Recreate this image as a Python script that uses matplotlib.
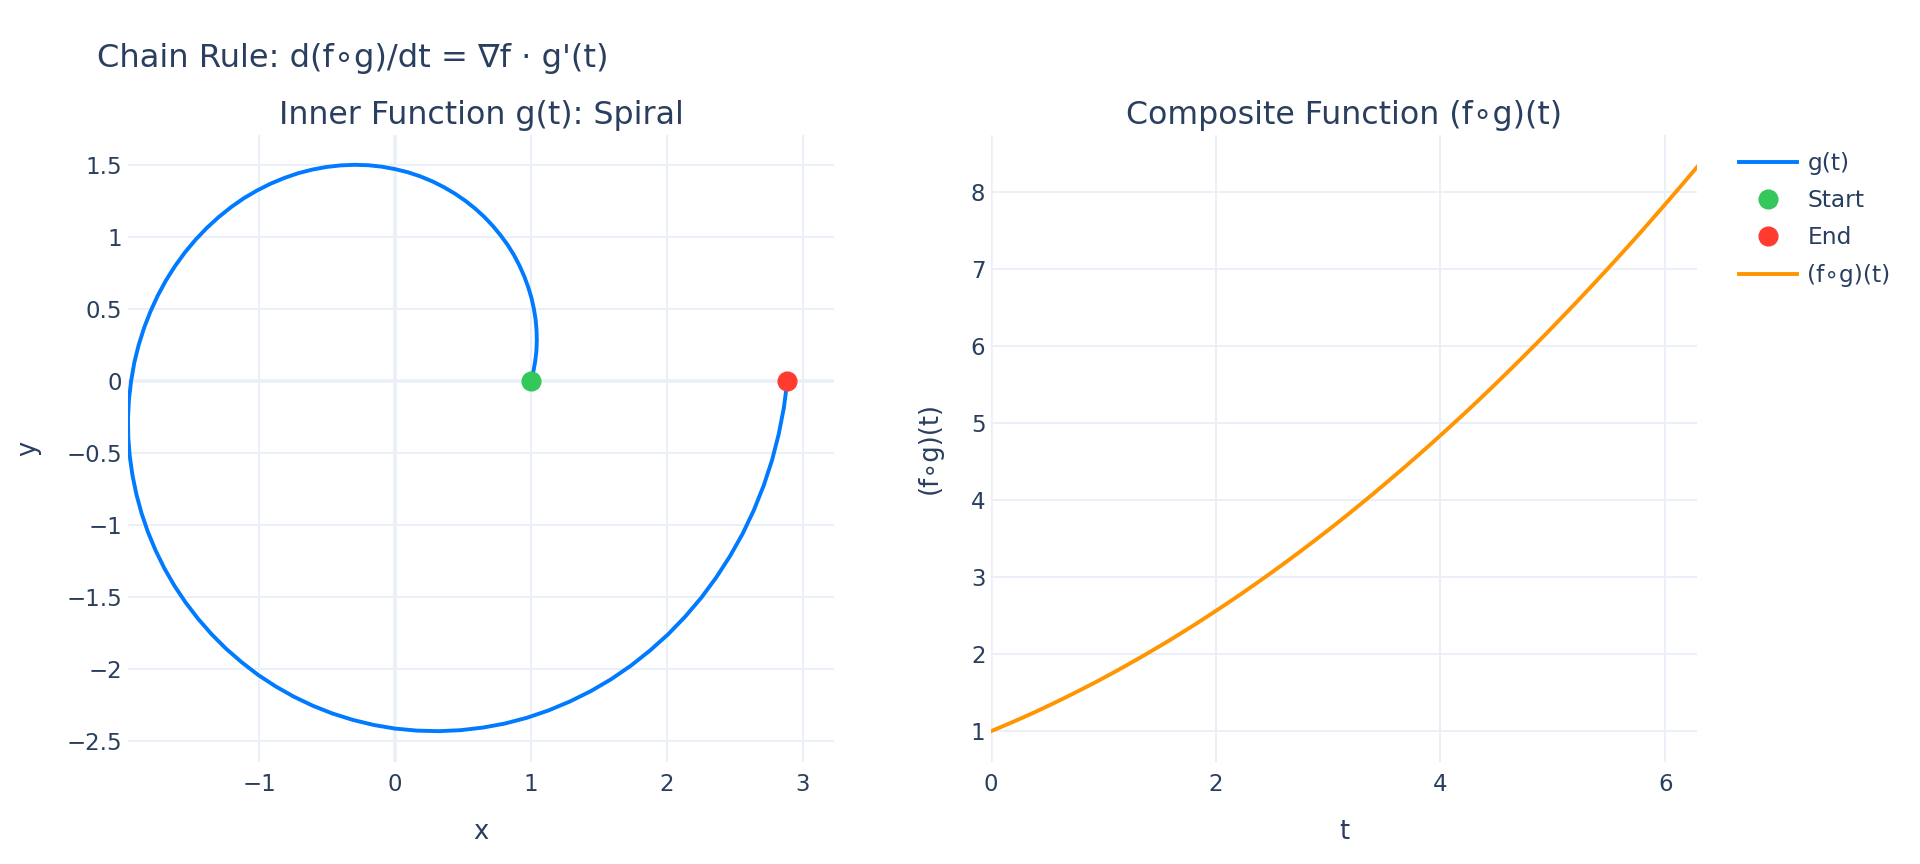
import matplotlib
matplotlib.use('Agg')
import matplotlib.pyplot as plt
from matplotlib.lines import Line2D

plt.rcParams['font.family'] = ['DejaVu Sans']

# Spiral g(t)
spiral_x = [1.000, 1.017, 1.030, 1.039, 1.042, 1.040, 1.033, 1.020, 1.002, 0.978,
            0.949, 0.914, 0.874, 0.828, 0.776, 0.719, 0.657, 0.590, 0.518, 0.441,
            0.360, 0.276, 0.187, 0.095, 0.000, -0.098, -0.197, -0.299, -0.401, -0.505,
            -0.608, -0.712, -0.814, -0.916, -1.015, -1.113, -1.207, -1.298, -1.385, -1.468,
            -1.546, -1.619, -1.686, -1.746, -1.800, -1.847, -1.887, -1.919, -1.942, -1.958,
            -1.965, -1.963, -1.952, -1.932, -1.903, -1.865, -1.818, -1.762, -1.697, -1.623,
            -1.540, -1.449, -1.350, -1.243, -1.128, -1.007, -0.879, -0.744, -0.604, -0.459,
            -0.310, -0.157, 0.000, 0.159, 0.320, 0.482, 0.645, 0.807, 0.969, 1.128,
            1.285, 1.439, 1.589, 1.734, 1.873, 2.007, 2.133, 2.252, 2.362, 2.464,
            2.557, 2.639, 2.711, 2.772, 2.821, 2.859, 2.885]
spiral_y = [0.000, 0.067, 0.136, 0.207, 0.279, 0.353, 0.428, 0.503, 0.579, 0.654,
            0.728, 0.802, 0.874, 0.944, 1.011, 1.076, 1.138, 1.196, 1.250, 1.300,
            1.345, 1.385, 1.420, 1.449, 1.471, 1.488, 1.498, 1.501, 1.497, 1.486,
            1.468, 1.443, 1.410, 1.370, 1.323, 1.269, 1.207, 1.138, 1.063, 0.981,
            0.893, 0.798, 0.698, 0.593, 0.482, 0.368, 0.248, 0.126, 0.000, -0.128,
            -0.259, -0.391, -0.523, -0.656, -0.788, -0.920, -1.050, -1.177, -1.302, -1.423,
            -1.540, -1.652, -1.759, -1.860, -1.954, -2.042, -2.121, -2.193, -2.256, -2.310,
            -2.354, -2.389, -2.414, -2.428, -2.432, -2.425, -2.407, -2.379, -2.339, -2.288,
            -2.226, -2.154, -2.071, -1.977, -1.873, -1.760, -1.637, -1.505, -1.364, -1.215,
            -1.059, -0.896, -0.726, -0.551, -0.371, -0.187, 0.000]

# Composite (f∘g)(t), right panel
t_vals = [0.000, 0.131, 0.262, 0.393, 0.524, 0.654, 0.785, 0.916, 1.047, 1.178,
          1.309, 1.440, 1.571, 1.702, 1.833, 1.963, 2.094, 2.225, 2.356, 2.487,
          2.618, 2.749, 2.880, 3.011, 3.142, 3.272, 3.403, 3.534, 3.665, 3.796,
          3.927, 4.058, 4.189, 4.320, 4.451, 4.581, 4.712, 4.843, 4.974, 5.105,
          5.236, 5.367, 5.498, 5.629, 5.760, 5.890, 6.021, 6.152, 6.283]
fg_vals = [1.000, 1.080, 1.163, 1.249, 1.339, 1.431, 1.527, 1.625, 1.727, 1.832,
           1.940, 2.051, 2.164, 2.282, 2.402, 2.525, 2.651, 2.781, 2.914, 3.049,
           3.188, 3.330, 3.474, 3.622, 3.773, 3.927, 4.084, 4.245, 4.408, 4.575,
           4.744, 4.917, 5.092, 5.271, 5.453, 5.638, 5.826, 6.017, 6.211, 6.409,
           6.609, 6.813, 7.019, 7.229, 7.441, 7.657, 7.876, 8.098, 8.323]

start_pt = (1.0, 0.0)
end_pt = (2.885, 0.0)

left_xticks = [-1, 0, 1, 2, 3]
left_xlabels = ['−1', '0', '1', '2', '3']
left_yticks = [-2.5, -2, -1.5, -1, -0.5, 0, 0.5, 1, 1.5]
left_ylabels = ['−2.5', '−2', '−1.5', '−1', '−0.5', '0', '0.5', '1', '1.5']
right_xticks = [0, 2, 4, 6]
right_yticks = [1, 2, 3, 4, 5, 6, 7, 8]

BLUE = '#007AFF'
GREEN = '#34C759'
RED = '#FF3B30'
ORANGE = '#FF9500'
TXT = '#2a3f5f'
GRID = '#EBF0F8'

W, H = 1920, 864
fig = plt.figure(figsize=(19.2, 8.64), dpi=100)

def px_axes(x0, x1, y0, y1):
    return fig.add_axes([x0 / W, 1 - y1 / H, (x1 - x0) / W, (y1 - y0) / H])

def style(ax):
    for s in ax.spines.values():
        s.set_visible(False)
    ax.grid(True, color=GRID, lw=1.4)
    ax.set_axisbelow(True)
    ax.tick_params(length=0, labelsize=16.5, labelcolor=TXT)
    ax.tick_params(axis='x', pad=8)
    ax.tick_params(axis='y', pad=4)

ax1 = px_axes(128, 834, 135, 762)
ax2 = px_axes(991, 1697, 135, 762)

# left: spiral
style(ax1)
ax1.axhline(0, color=GRID, lw=2.6, zorder=0.5)
ax1.axvline(0, color=GRID, lw=2.6, zorder=0.5)
ax1.plot(spiral_x, spiral_y, color=BLUE, lw=2.8, label='g(t)', solid_joinstyle='round')
ax1.plot(*start_pt, 'o', color=GREEN, ms=13.5, label='Start', zorder=5)
ax1.plot(*end_pt, 'o', color=RED, ms=13.5, label='End', zorder=5)
ax1.set_xlim(-1.965, 3.228)
ax1.set_ylim(-2.646, 1.708)
ax1.set_xticks(left_xticks)
ax1.set_xticklabels(left_xlabels)
ax1.set_yticks(left_yticks)
ax1.set_yticklabels(left_ylabels)

# right: composite
style(ax2)
ax2.axvline(0, color=GRID, lw=2.6, zorder=0.5)
ax2.plot(t_vals, fg_vals, color=ORANGE, lw=2.8, label='(f∘g)(t)', solid_joinstyle='round')
ax2.set_xlim(0, 6.283)
ax2.set_ylim(0.6, 8.74)
ax2.set_xticks(right_xticks)
ax2.set_yticks(right_yticks)

# titles and axis labels
fig.text(97 / W, 1 - 67 / H, "Chain Rule: d(f∘g)/dt = ∇f · g'(t)", fontsize=23.1,
         color=TXT, ha='left', va='baseline')
fig.text(481 / W, 1 - 124 / H, 'Inner Function g(t): Spiral', fontsize=22.8,
         color=TXT, ha='center', va='baseline')
fig.text(1344 / W, 1 - 124 / H, 'Composite Function (f∘g)(t)', fontsize=22.8,
         color=TXT, ha='center', va='baseline')
fig.text(481 / W, 1 - 832 / H, 'x', fontsize=18.5, color=TXT, ha='center', va='center')
fig.text(1344 / W, 1 - 832 / H, 't', fontsize=18.5, color=TXT, ha='center', va='center')
fig.text(28 / W, 1 - 448 / H, 'y', fontsize=18.5, color=TXT, ha='center', va='center',
         rotation=90)
fig.text(930 / W, 1 - 448 / H, '(f∘g)(t)', fontsize=18.5, color=TXT, ha='center',
         va='center', rotation=90)

handles = [
    Line2D([], [], color=BLUE, lw=2.8),
    Line2D([], [], marker='o', ls='none', color=GREEN, ms=13.5),
    Line2D([], [], marker='o', ls='none', color=RED, ms=13.5),
    Line2D([], [], color=ORANGE, lw=2.8),
]
labels = ['g(t)', 'Start', 'End', '(f∘g)(t)']
leg = fig.legend(handles, labels, loc='upper left', bbox_to_anchor=(1739 / W, 1 - 152 / H),
                 frameon=False, fontsize=16.8, handlelength=2.5, handletextpad=0.43,
                 labelspacing=0.61, borderaxespad=0, borderpad=0)
for txt in leg.get_texts():
    txt.set_color(TXT)

fig.savefig('out.png', dpi=100)
